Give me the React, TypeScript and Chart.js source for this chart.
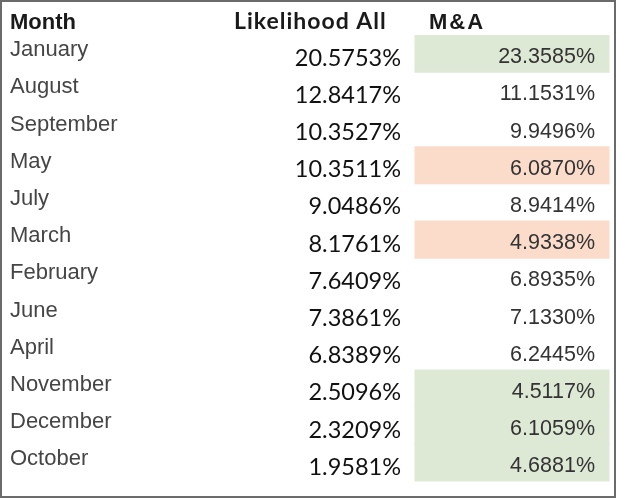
import React, { useEffect, useRef } from "react";
import { Chart, registerables } from "chart.js";

Chart.register(...registerables);

const headers = ["Month", "Likelihood All", "M&A"];
const months = [
  "January", "August", "September", "May", "July", "March",
  "February", "June", "April", "November", "December", "October",
];
const likelihoodAll = [
  20.5753, 12.8417, 10.3527, 10.3511, 9.0486, 8.1761,
  7.6409, 7.3861, 6.8389, 2.5096, 2.3209, 1.9581,
];
const mna = [
  23.3585, 11.1531, 9.9496, 6.087, 8.9414, 4.9338,
  6.8935, 7.133, 6.2445, 4.5117, 6.1059, 4.6881,
];
// cell highlight for the M&A column: "up" = green, "down" = salmon
const highlight = [
  "up", null, null, "down", null, "down",
  null, null, null, "up", "up", "up",
];

const W = 617;
const H = 498;
const LAYOUT = {
  monthX: 10,
  likeRight: 401,
  mnaRight: 595,
  likeHeaderX: 234,
  mnaHeaderX: 429,
  cellX0: 415,
  cellX1: 609,
  headerBaseline: 28.5,
};
const COLORS: Record<string, string> = { up: "#dde9d4", down: "#fbdccb" };

const tablePlugin = {
  id: "tableText",
  afterDatasetsDraw(chart: any) {
    const ctx = chart.ctx as any;
    const xs = chart.scales.x;
    const ys = chart.scales.y;
    ctx.save();
    // headers
    ctx.textBaseline = "alphabetic";
    ctx.textAlign = "left";
    ctx.fillStyle = "#1a1a1a";
    ctx.font = "bold 22px 'Liberation Sans', Arial, sans-serif";
    ctx.fillText(headers[0], xs.getPixelForValue(LAYOUT.monthX), LAYOUT.headerBaseline);
    ctx.font = "bold 23px Lato, sans-serif";
    ctx.letterSpacing = "1px";
    ctx.fillText(headers[1], xs.getPixelForValue(LAYOUT.likeHeaderX), LAYOUT.headerBaseline);
    ctx.font = "bold 22px 'Liberation Sans', Arial, sans-serif";
    ctx.letterSpacing = "2px";
    ctx.fillText(headers[2], xs.getPixelForValue(LAYOUT.mnaHeaderX), LAYOUT.headerBaseline);
    ctx.letterSpacing = "0px";

    months.forEach((m, i) => {
      const yc = ys.getPixelForValue(i);
      ctx.textAlign = "left";
      ctx.fillStyle = "#454545";
      ctx.font = "22px 'Liberation Sans', Arial, sans-serif";
      ctx.fillText(m, xs.getPixelForValue(LAYOUT.monthX), yc + 2.5);

      ctx.textAlign = "right";
      ctx.fillStyle = "#111111";
      ctx.font = "23.5px Lato, sans-serif";
      ctx.fillText(likelihoodAll[i].toFixed(4) + "%", xs.getPixelForValue(LAYOUT.likeRight), yc + 12);

      ctx.fillStyle = "#333333";
      ctx.font = "21.5px 'Liberation Sans', Arial, sans-serif";
      ctx.fillText(mna[i].toFixed(4) + "%", xs.getPixelForValue(LAYOUT.mnaRight), yc + 9.5);
    });

    // outer frame
    ctx.strokeStyle = "#6b6b6b";
    ctx.lineWidth = 2;
    ctx.strokeRect(1, 1, W - 3, H - 2);
    ctx.restore();
  },
};

export default function App() {
  const ref = useRef<HTMLCanvasElement | null>(null);
  useEffect(() => {
    if (!ref.current) return;
    const chart = new Chart(ref.current, {
      type: "bar",
      data: {
        labels: months,
        datasets: [
          {
            data: highlight.map((h) => (h ? [LAYOUT.cellX0, LAYOUT.cellX1] : null)) as any,
            backgroundColor: highlight.map((h) => (h ? COLORS[h] : "rgba(0,0,0,0)")),
            borderWidth: 0,
            barPercentage: 1,
            categoryPercentage: 1,
            inflateAmount: 0.5,
          } as any,
        ],
      },
      options: {
        indexAxis: "y",
        responsive: false,
        animation: false,
        layout: { padding: { top: 35, bottom: 16.5, left: 0, right: 0 } },
        plugins: { legend: { display: false }, tooltip: { enabled: false }, title: { display: false } },
        scales: {
          x: { type: "linear", min: 0, max: W, display: false },
          y: { type: "category", display: false },
        },
      },
      plugins: [tablePlugin],
    });
    return () => chart.destroy();
  }, []);
  return (
    <div style={{ position: "absolute", left: 0, top: 0, width: W, height: H, background: "#ffffff" }}>
      <canvas ref={ref} width={W} height={H} style={{ display: "block", width: W, height: H }} />
    </div>
  );
}
